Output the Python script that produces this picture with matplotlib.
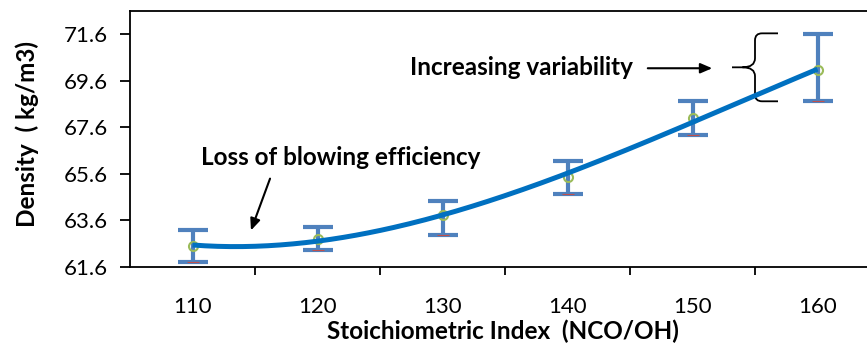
import numpy as np
import matplotlib
matplotlib.use('Agg')
import matplotlib.pyplot as plt
from matplotlib.path import Path
from matplotlib.patches import PathPatch

# Data
index = [110, 120, 130, 140, 150, 160]
density = [62.51, 62.80, 63.83, 65.46, 67.99, 70.05]
err_low = [0.70, 0.47, 0.86, 0.73, 0.72, 1.33]
err_high = [0.68, 0.52, 0.60, 0.69, 0.73, 1.55]

plt.rcParams['font.family'] = ['Lato', 'DejaVu Sans']

fig = plt.figure(figsize=(8.67, 3.45), dpi=100)
ax = fig.add_axes([130 / 867, 78 / 345, 750 / 867, 256 / 345])

pos = np.arange(len(index))

# error bars
ax.errorbar(pos, density, yerr=[err_low, err_high], fmt='none', ecolor='#4F81BD',
            elinewidth=3, capsize=11, capthick=3, zorder=2)
# thin red line on the lower caps
low = np.array(density) - np.array(err_low)
ax.plot(pos, low, ls='none', marker='_', ms=9, mew=0.8, color='#C0504D', zorder=3)
ax.plot(pos, density, ls='none', marker='o', ms=6.5, mfc='none', mec='#9BBB59', mew=1.5, zorder=3)

# polynomial trendline (order 3)
coef = np.polyfit(pos, density, 3)
xs = np.linspace(pos[0], pos[-1], 200)
ax.plot(xs, np.polyval(coef, xs), color='#0070C0', lw=3.6, zorder=4, solid_capstyle='butt')

ax.set_xlim(-0.5, 5.5)
ax.set_ylim(61.6, 72.6)
ax.set_yticks(np.arange(61.6, 71.7, 2.0))
ax.set_yticklabels(['%.1f' % v for v in np.arange(61.6, 71.7, 2.0)])
ax.set_xticks(pos[:-1] + 0.5)
ax.set_xticklabels([])
ax.set_xticks(pos, minor=True)
ax.set_xticklabels([str(v) for v in index], minor=True)
ax.tick_params(axis='x', which='major', direction='out', length=6, width=1.3)
ax.tick_params(axis='x', which='minor', length=0, pad=21.5, labelsize=16)
ax.tick_params(axis='y', direction='out', length=7, width=1.3, pad=9, labelsize=16)
for s in ['left', 'bottom', 'top']:
    ax.spines[s].set_linewidth(1.3)

ax.set_ylabel('Density  ( kg/m3)', fontsize=17.5, fontweight='bold')
ax.yaxis.set_label_coords(-0.121, 0.52)
ax.set_xlabel('Stoichiometric Index  (NCO/OH)', fontsize=17.5, fontweight='bold')
ax.xaxis.set_label_coords(0.497, -0.205)

# annotations
ax.text(1.188, 66.32, 'Loss of blowing efficiency', fontsize=17.5, fontweight='bold',
        ha='center', va='center')
ax.annotate('', xy=(0.46, 63.06), xytext=(0.628, 65.51),
            arrowprops=dict(arrowstyle='-|>,head_length=0.7,head_width=0.3', color='black', lw=1.5))
ax.text(2.628, 70.18, 'Increasing variability', fontsize=17.5, fontweight='bold',
        ha='center', va='center')
ax.annotate('', xy=(4.18, 70.14), xytext=(3.62, 70.14),
            arrowprops=dict(arrowstyle='-|>,head_length=0.7,head_width=0.3', color='black', lw=1.5))

# curly brace
verts = [(4.684, 71.64), (4.556, 71.64), (4.5, 71.64), (4.5, 71.34), (4.5, 70.57),
         (4.5, 70.18), (4.40, 70.18), (4.316, 70.18),
         (4.40, 70.18), (4.5, 70.18), (4.5, 69.80), (4.5, 69.02),
         (4.5, 68.72), (4.556, 68.72), (4.684, 68.72)]
codes = [Path.MOVETO, Path.LINETO, Path.CURVE3, Path.CURVE3, Path.LINETO,
         Path.CURVE3, Path.CURVE3, Path.LINETO,
         Path.MOVETO, Path.CURVE3, Path.CURVE3, Path.LINETO,
         Path.CURVE3, Path.CURVE3, Path.LINETO]
ax.add_patch(PathPatch(Path(verts, codes), fill=False, lw=1.3, color='black', clip_on=False))

plt.savefig('out.png', dpi=100)
